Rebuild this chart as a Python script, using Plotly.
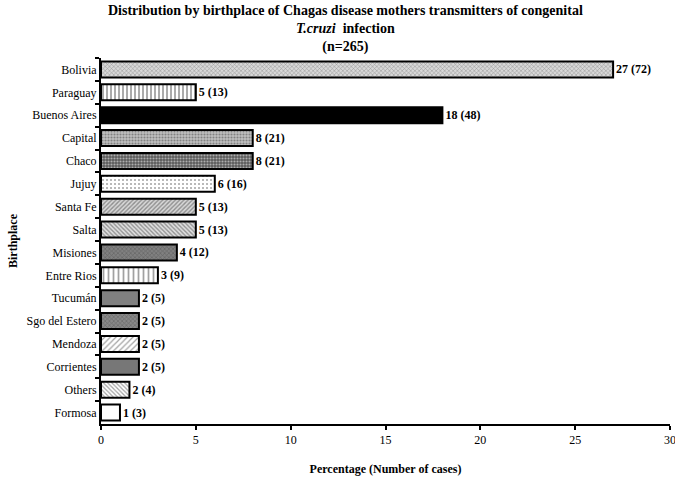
import plotly.graph_objects as go

places = ["Bolivia", "Paraguay", "Buenos Aires", "Capital", "Chaco", "Jujuy",
          "Santa Fe", "Salta", "Misiones", "Entre Rios", "Tucumán",
          "Sgo del Estero", "Mendoza", "Corrientes", "Others", "Formosa"]
percent = [27, 5, 18, 8, 8, 6, 5, 5, 4, 3, 2, 2, 2, 2, 1.5, 1]
labels = ["27 (72)", "5 (13)", "18 (48)", "8 (21)", "8 (21)", "6 (16)",
          "5 (13)", "5 (13)", "4 (12)", "3 (9)", "2 (5)", "2 (5)",
          "2 (5)", "2 (5)", "2 (4)", "1 (3)"]
x_ticks = [0, 5, 10, 15, 20, 25, 30]

shapes = ["x", "|", "", ".", ".", ".", "/", "\\", "x", "|", "", "x", "/", "", "\\", ""]
fg = ["#3a3a3a", "#000000", "#000000", "#8a8a8a", "#2a2a2a", "#555555", "#111111", "#111111",
      "#2a2a2a", "#000000", "#808080", "#2a2a2a", "#555555", "#777777", "#333333", "#ffffff"]
bg = ["#d8d8d8", "#ffffff", "#000000", "#c0c0c0", "#5a5a5a", "#ffffff", "#d8d8d8", "#e0e0e0",
      "#808080", "#ffffff", "#808080", "#888888", "#ffffff", "#777777", "#ffffff", "#ffffff"]
psize = [3, 4, 4, 3, 3, 4, 3, 3, 3, 5, 4, 3, 4, 4, 3, 4]
solid = [0.3, 0.45, 0.3, 0.4, 0.4, 0.2, 0.45, 0.45, 0.35, 0.35, 0.3, 0.35, 0.3, 0.3, 0.4, 0.3]

font_family = "Times New Roman, Liberation Serif, serif"

fig = go.Figure(go.Bar(
    x=percent, y=places, orientation="h",
    text=labels, textposition="outside", cliponaxis=False,
    textfont=dict(family=font_family, size=12, color="black", weight="bold"),
    marker=dict(
        color=bg,
        line=dict(color="black", width=2),
        pattern=dict(shape=shapes, fgcolor=fg, size=psize, solidity=solid, fillmode="overlay"),
    ),
    width=0.7,
    hoverinfo="skip",
))

fig.add_annotation(
    text="<b>Distribution by birthplace of Chagas disease mothers transmitters of congenital<br>"
         "<i>T.cruzi</i>  infection<br>(n=265)</b>",
    xref="paper", yref="paper", x=0.429, y=1.157, xanchor="center", yanchor="top",
    showarrow=False, align="center",
    font=dict(family=font_family, size=14, color="black"),
)

fig.update_layout(
    width=675, height=478,
    margin=dict(l=101, r=5, t=58, b=54),
    plot_bgcolor="white", paper_bgcolor="white",
    font=dict(family=font_family, size=12, color="black"),
    showlegend=False,
    xaxis=dict(
        range=[0, 30], tickvals=x_ticks, ticktext=[str(v) for v in x_ticks],
        showline=True, linecolor="black", linewidth=2,
        ticks="outside", ticklen=4, tickwidth=2, tickcolor="black",
        showgrid=False, zeroline=False, ticklabeloverflow="allow",
        title=dict(text="<b>Percentage (Number of cases)</b>", standoff=18,
                   font=dict(family=font_family, size=12)),
        automargin=False,
    ),
    yaxis=dict(
        categoryorder="array", categoryarray=places, autorange="reversed",
        showline=True, linecolor="black", linewidth=2,
        ticks="outside", ticklen=4, tickwidth=2, tickcolor="black",
        tickson="boundaries", showgrid=False,
        title=dict(text="<b>Birthplace</b>", standoff=6,
                   font=dict(family=font_family, size=12)),
        automargin=False,
    ),
)

fig.write_html("out.html", config={"displayModeBar": False},
               post_script="document.body.style.margin='0';")
